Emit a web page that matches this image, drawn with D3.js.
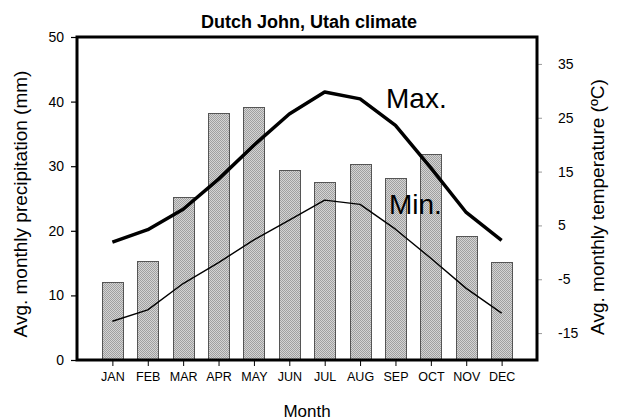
<!DOCTYPE html>
<html>
<head>
<meta charset="utf-8">
<script src="https://cdn.jsdelivr.net/npm/d3@7"></script>
<style>
  html, body { margin: 0; padding: 0; background: #fff; }
  text { font-family: "Liberation Sans", Arial, Helvetica, sans-serif; fill: #000; }
</style>
</head>
<body>
<svg id="chart" width="617" height="420"></svg>
<script>
const months = ["JAN","FEB","MAR","APR","MAY","JUN","JUL","AUG","SEP","OCT","NOV","DEC"];
const precipitation = [12.0, 15.4, 25.3, 38.2, 39.2, 29.4, 27.6, 30.4, 28.1, 31.9, 19.2, 15.2];
const tempMax = [1.9, 4.2, 8.0, 13.6, 19.9, 25.7, 29.8, 28.5, 23.6, 15.7, 7.4, 2.2];
const tempMin = [-12.8, -10.7, -5.8, -1.9, 2.3, 6.0, 9.7, 8.9, 4.3, -1.1, -6.7, -11.3];
const precipTicks = [0, 10, 20, 30, 40, 50];
const tempTicks = [-15, -5, 5, 15, 25, 35];

const svg = d3.select("#chart");
const L = 77, R = 537, T = 37, B = 360;

// pattern for bars
const defs = svg.append("defs");
const pat = defs.append("pattern").attr("id", "dither")
  .attr("width", 2).attr("height", 2).attr("patternUnits", "userSpaceOnUse");
pat.append("rect").attr("width", 2).attr("height", 2).attr("fill", "#d4d4d4");
pat.append("rect").attr("x", 0).attr("y", 0).attr("width", 1).attr("height", 1).attr("fill", "#a0a0a0");
pat.append("rect").attr("x", 1).attr("y", 1).attr("width", 1).attr("height", 1).attr("fill", "#a0a0a0");

const x = d3.scalePoint().domain(months).range([L, R]).padding(1);
const yP = d3.scaleLinear().domain([0, 50]).range([B, T]);
const yT = d3.scaleLinear().domain([-20, 40]).range([B, T]);
const barW = 21;

// bars
svg.append("g").selectAll("rect").data(months).join("rect")
  .attr("x", (d) => Math.round(x(d) - barW / 2) + 0.5)
  .attr("y", (d, i) => Math.round(yP(precipitation[i])) + 0.5)
  .attr("width", barW)
  .attr("height", (d, i) => B - Math.round(yP(precipitation[i])) - 0.5)
  .attr("fill", "url(#dither)")
  .attr("stroke", "#555")
  .attr("stroke-width", 1);

// temperature lines
const line = d3.line().x((d, i) => x(months[i])).y((d) => yT(d));
svg.append("path").datum(tempMax).attr("d", line)
  .attr("fill", "none").attr("stroke", "#000").attr("stroke-width", 3.5).attr("stroke-linejoin", "round");
svg.append("path").datum(tempMin).attr("d", line)
  .attr("fill", "none").attr("stroke", "#000").attr("stroke-width", 1.4).attr("stroke-linejoin", "round");

const fmt = (d) => String(d);

// axes
const axL = svg.append("g").attr("transform", `translate(${L - 1},0)`)
  .call(d3.axisLeft(yP).tickValues(precipTicks).tickSize(5).tickPadding(7).tickFormat(fmt));
axL.select(".domain").remove();
axL.selectAll("line").attr("stroke", "#000").attr("stroke-width", 1.2);
axL.selectAll("text").style("font-size", "14px").attr("fill", "#000");

const axR = svg.append("g").attr("transform", `translate(${R + 1},0)`)
  .call(d3.axisRight(yT).tickValues(tempTicks).tickSize(4).tickPadding(16).tickFormat(fmt));
axR.select(".domain").remove();
axR.selectAll("line").attr("stroke", "#999").attr("stroke-width", 1);
axR.selectAll("text").style("font-size", "14px").attr("fill", "#000");

const axB = svg.append("g").attr("transform", `translate(0,${B + 1})`)
  .call(d3.axisBottom(x).tickSize(5).tickPadding(6));
axB.select(".domain").remove();
axB.selectAll("line").attr("stroke", "#000").attr("stroke-width", 1);
axB.selectAll("text").style("font-size", "12.5px").attr("fill", "#000");

// plot box
svg.append("rect").attr("x", L).attr("y", T).attr("width", R - L).attr("height", B - T)
  .attr("fill", "none").attr("stroke", "#000").attr("stroke-width", 3);

// titles
svg.append("text").attr("x", 309).attr("y", 28).attr("text-anchor", "middle")
  .style("font-size", "18px").style("font-weight", "bold").text("Dutch John, Utah climate");
svg.append("text").attr("x", 307).attr("y", 417).attr("text-anchor", "middle")
  .style("font-size", "17px").text("Month");
svg.append("text").attr("transform", "translate(27,204) rotate(-90)").attr("text-anchor", "middle")
  .style("font-size", "19px").text("Avg. monthly precipitation (mm)");
svg.append("text").attr("transform", "translate(604,207) rotate(-90)").attr("text-anchor", "middle")
  .style("font-size", "19px").text("Avg. monthly  temperature (ºC)");

// line labels
svg.append("text").attr("x", 386).attr("y", 108).style("font-size", "28px").text("Max.");
svg.append("text").attr("x", 389).attr("y", 214).style("font-size", "28px").text("Min.");
</script>
</body>
</html>
